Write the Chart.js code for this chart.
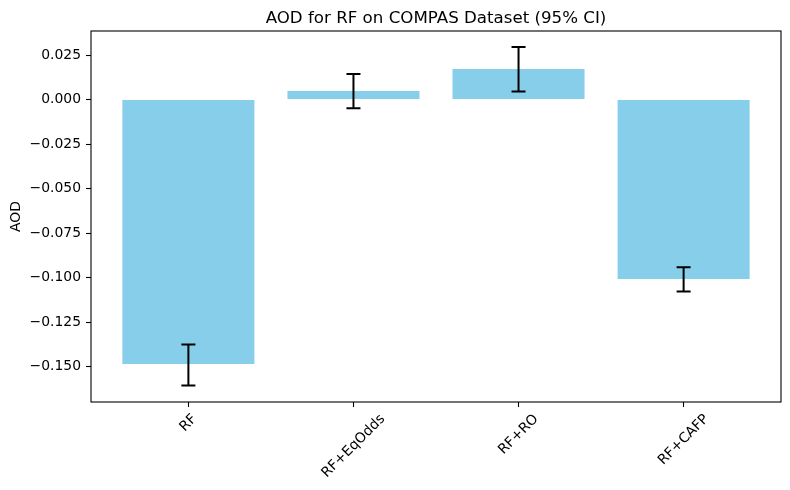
<!DOCTYPE html>
<html>
<head>
<meta charset="utf-8">
<script src="https://cdn.jsdelivr.net/npm/chart.js@4"></script>
<style>
  body { margin: 0; background: #fff; }
  canvas { display: block; }
</style>
</head>
<body>
<canvas id="aodChart" width="790" height="490"></canvas>
<script>
const categories = ["RF", "RF+EqOdds", "RF+RO", "RF+CAFP"];
const aodValues = [-0.1485, 0.0048, 0.0171, -0.1008];
const ciLow = [-0.1605, -0.0049, 0.0046, -0.1077];
const ciHigh = [-0.1375, 0.0143, 0.0295, -0.0942];
const yTicks = [0.025, 0, -0.025, -0.05, -0.075, -0.1, -0.125, -0.15];

const FONT = "'DejaVu Sans', sans-serif";

function fmtTick(v) {
    return v.toFixed(3).replace("-", "\u2212");
}

const extrasPlugin = {
    id: "extras",
    afterDatasetsDraw(chart) {
        const ctx = chart.ctx;
        const x = chart.scales.x;
        const y = chart.scales.y;
        const area = chart.chartArea;

        // error bars
        ctx.save();
        ctx.strokeStyle = "#000";
        ctx.lineWidth = 2;
        categories.forEach((c, i) => {
            const px = x.getPixelForValue(i);
            const top = y.getPixelForValue(ciHigh[i]);
            const bot = y.getPixelForValue(ciLow[i]);
            ctx.beginPath();
            ctx.moveTo(px, top);
            ctx.lineTo(px, bot);
            ctx.moveTo(px - 7, top);
            ctx.lineTo(px + 7, top);
            ctx.moveTo(px - 7, bot);
            ctx.lineTo(px + 7, bot);
            ctx.stroke();
        });
        ctx.restore();

        // frame
        ctx.save();
        ctx.strokeStyle = "#000";
        ctx.lineWidth = 1.1;
        ctx.strokeRect(area.left, area.top, area.right - area.left, area.bottom - area.top);
        ctx.restore();

        // rotated category labels
        ctx.save();
        ctx.fillStyle = "#000";
        ctx.font = "13.9px " + FONT;
        ctx.textAlign = "center";
        ctx.textBaseline = "middle";
        categories.forEach((c, i) => {
            const px = x.getPixelForValue(i);
            const w = ctx.measureText(c).width;
            const h = 13.9;
            const half = (w + h) / (2 * Math.SQRT2);
            ctx.save();
            ctx.translate(px, area.bottom + 10 + half);
            ctx.rotate(-Math.PI / 4);
            ctx.fillText(c, 0, 0);
            ctx.restore();
        });
        ctx.restore();

        // title
        ctx.save();
        ctx.fillStyle = "#000";
        ctx.font = "16.67px " + FONT;
        ctx.textAlign = "center";
        ctx.textBaseline = "alphabetic";
        ctx.fillText("AOD for RF on COMPAS Dataset (95% CI)", (area.left + area.right) / 2, 23);
        ctx.restore();

        // y axis title
        ctx.save();
        ctx.fillStyle = "#000";
        ctx.font = "13.9px " + FONT;
        ctx.textAlign = "center";
        ctx.textBaseline = "middle";
        ctx.translate(16, (area.top + area.bottom) / 2);
        ctx.rotate(-Math.PI / 2);
        ctx.fillText("AOD", 0, 0);
        ctx.restore();
    }
};

new Chart(document.getElementById("aodChart").getContext("2d"), {
    type: "bar",
    data: {
        datasets: [{
            data: aodValues.map((v, i) => ({ x: i, y: v })),
            backgroundColor: "#87CEEB",
            borderWidth: 0,
            categoryPercentage: 1,
            barPercentage: 0.8
        }]
    },
    options: {
        responsive: false,
        animation: false,
        layout: { padding: { left: 0, right: 9, top: 31, bottom: 0 } },
        plugins: {
            legend: { display: false },
            tooltip: { enabled: false },
            title: { display: false }
        },
        scales: {
            x: {
                type: "linear",
                offset: false,
                min: -0.59,
                max: 3.59,
                afterBuildTicks: scale => {
                    scale.ticks = categories.map((c, i) => ({ value: i }));
                },
                afterFit: scale => { scale.height = 88; },
                ticks: { display: false },
                grid: {
                    offset: false,
                    drawOnChartArea: false,
                    drawTicks: true,
                    tickLength: 5,
                    tickColor: "#000",
                    tickWidth: 1.1
                },
                border: { display: false }
            },
            y: {
                type: "linear",
                min: -0.1698,
                max: 0.0385,
                afterBuildTicks: scale => {
                    scale.ticks = yTicks.map(v => ({ value: v }));
                },
                afterFit: scale => { scale.width = 91; },
                ticks: {
                    color: "#000",
                    padding: 5,
                    font: { family: FONT, size: 13.9 },
                    callback: value => fmtTick(value)
                },
                grid: {
                    drawOnChartArea: false,
                    drawTicks: true,
                    tickLength: 5,
                    tickColor: "#000",
                    tickWidth: 1.1
                },
                border: { display: false }
            }
        }
    },
    plugins: [extrasPlugin]
});
</script>
</body>
</html>
